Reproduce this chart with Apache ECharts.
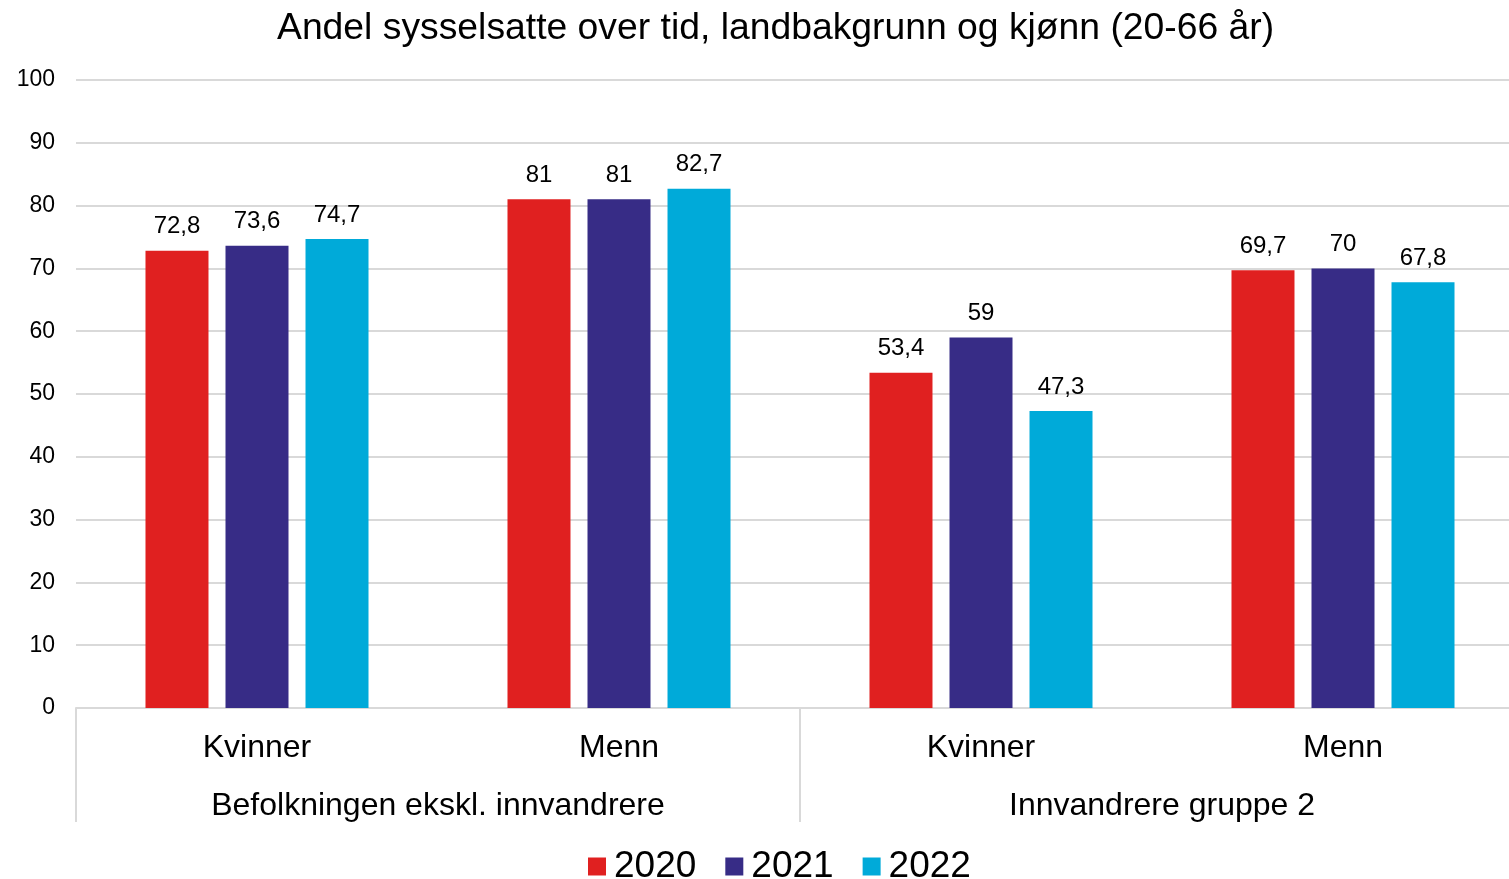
<!DOCTYPE html>
<html>
<head>
<meta charset="utf-8">
<script src="https://cdn.jsdelivr.net/npm/echarts@6/dist/echarts.min.js"></script>
<style>html,body{margin:0;padding:0;background:#fff}#c{width:1509px;height:879px}</style>
</head>
<body>
<div id="c"></div>
<script>
const title = 'Andel sysselsatte over tid, landbakgrunn og kjønn (20-66 år)';
const categories = ['Kvinner', 'Menn', 'Kvinner', 'Menn'];
const groups = ['Befolkningen ekskl. innvandrere', 'Innvandrere gruppe 2'];
const seriesNames = ['2020', '2021', '2022'];
const values2020 = [72.8, 81, 53.4, 69.7];
const values2021 = [73.6, 81, 59, 70];
const values2022 = [74.7, 82.7, 47.3, 67.8];
const colors = ['#E02020', '#372C86', '#00AAD9'];
const yTicks = {min: 0, max: 100, interval: 10};

const font = 'Liberation Sans, Arial, sans-serif';
const allValues = [values2020, values2021, values2022];
const chart = echarts.init(document.getElementById('c'));
chart.setOption({
  animation: false,
  textStyle: {fontFamily: font, color: '#000'},
  title: {text: title, left: 272, top: 5, textStyle: {fontFamily: font, fontSize: 37.3, fontWeight: 'normal', color: '#000'}},
  grid: {left: 76, width: 1448, top: 80, height: 628, containLabel: false, outerBoundsMode: 'none'},
  legend: {
    bottom: -11, left: 583, icon: 'rect', itemWidth: 18, itemHeight: 18, itemGap: 29,
    textStyle: {fontFamily: font, fontSize: 37, color: '#000', padding: [0, 0, 0, 3]},
    data: seriesNames
  },
  xAxis: [
    {
      type: 'category', data: categories, position: 'bottom',
      axisLine: {show: true, lineStyle: {color: '#d9d9d9', width: 2}},
      axisTick: {show: false},
      axisLabel: {fontFamily: font, fontSize: 32, color: '#000', margin: 24}
    },
    {
      type: 'category', data: groups, position: 'bottom',
      axisLine: {show: false},
      axisTick: {show: true, length: 114, lineStyle: {color: '#d9d9d9', width: 2}},
      axisLabel: {fontFamily: font, fontSize: 32, color: '#000', margin: 82}
    }
  ],
  yAxis: {
    type: 'value', min: yTicks.min, max: yTicks.max, interval: yTicks.interval,
    axisLine: {show: false}, axisTick: {show: false},
    axisLabel: {fontFamily: font, fontSize: 23, color: '#000', margin: 21},
    splitLine: {lineStyle: {color: '#d9d9d9', width: 2}}
  },
  series: seriesNames.map((name, i) => ({
    name: name, type: 'bar', xAxisIndex: 0, data: allValues[i],
    barWidth: 63, barGap: '27%',
    itemStyle: {color: colors[i]},
    label: {
      show: true, position: 'top', distance: 12,
      fontFamily: font, fontSize: 24, color: '#000',
      formatter: p => String(p.value).replace('.', ',')
    }
  }))
});
</script>
</body>
</html>
